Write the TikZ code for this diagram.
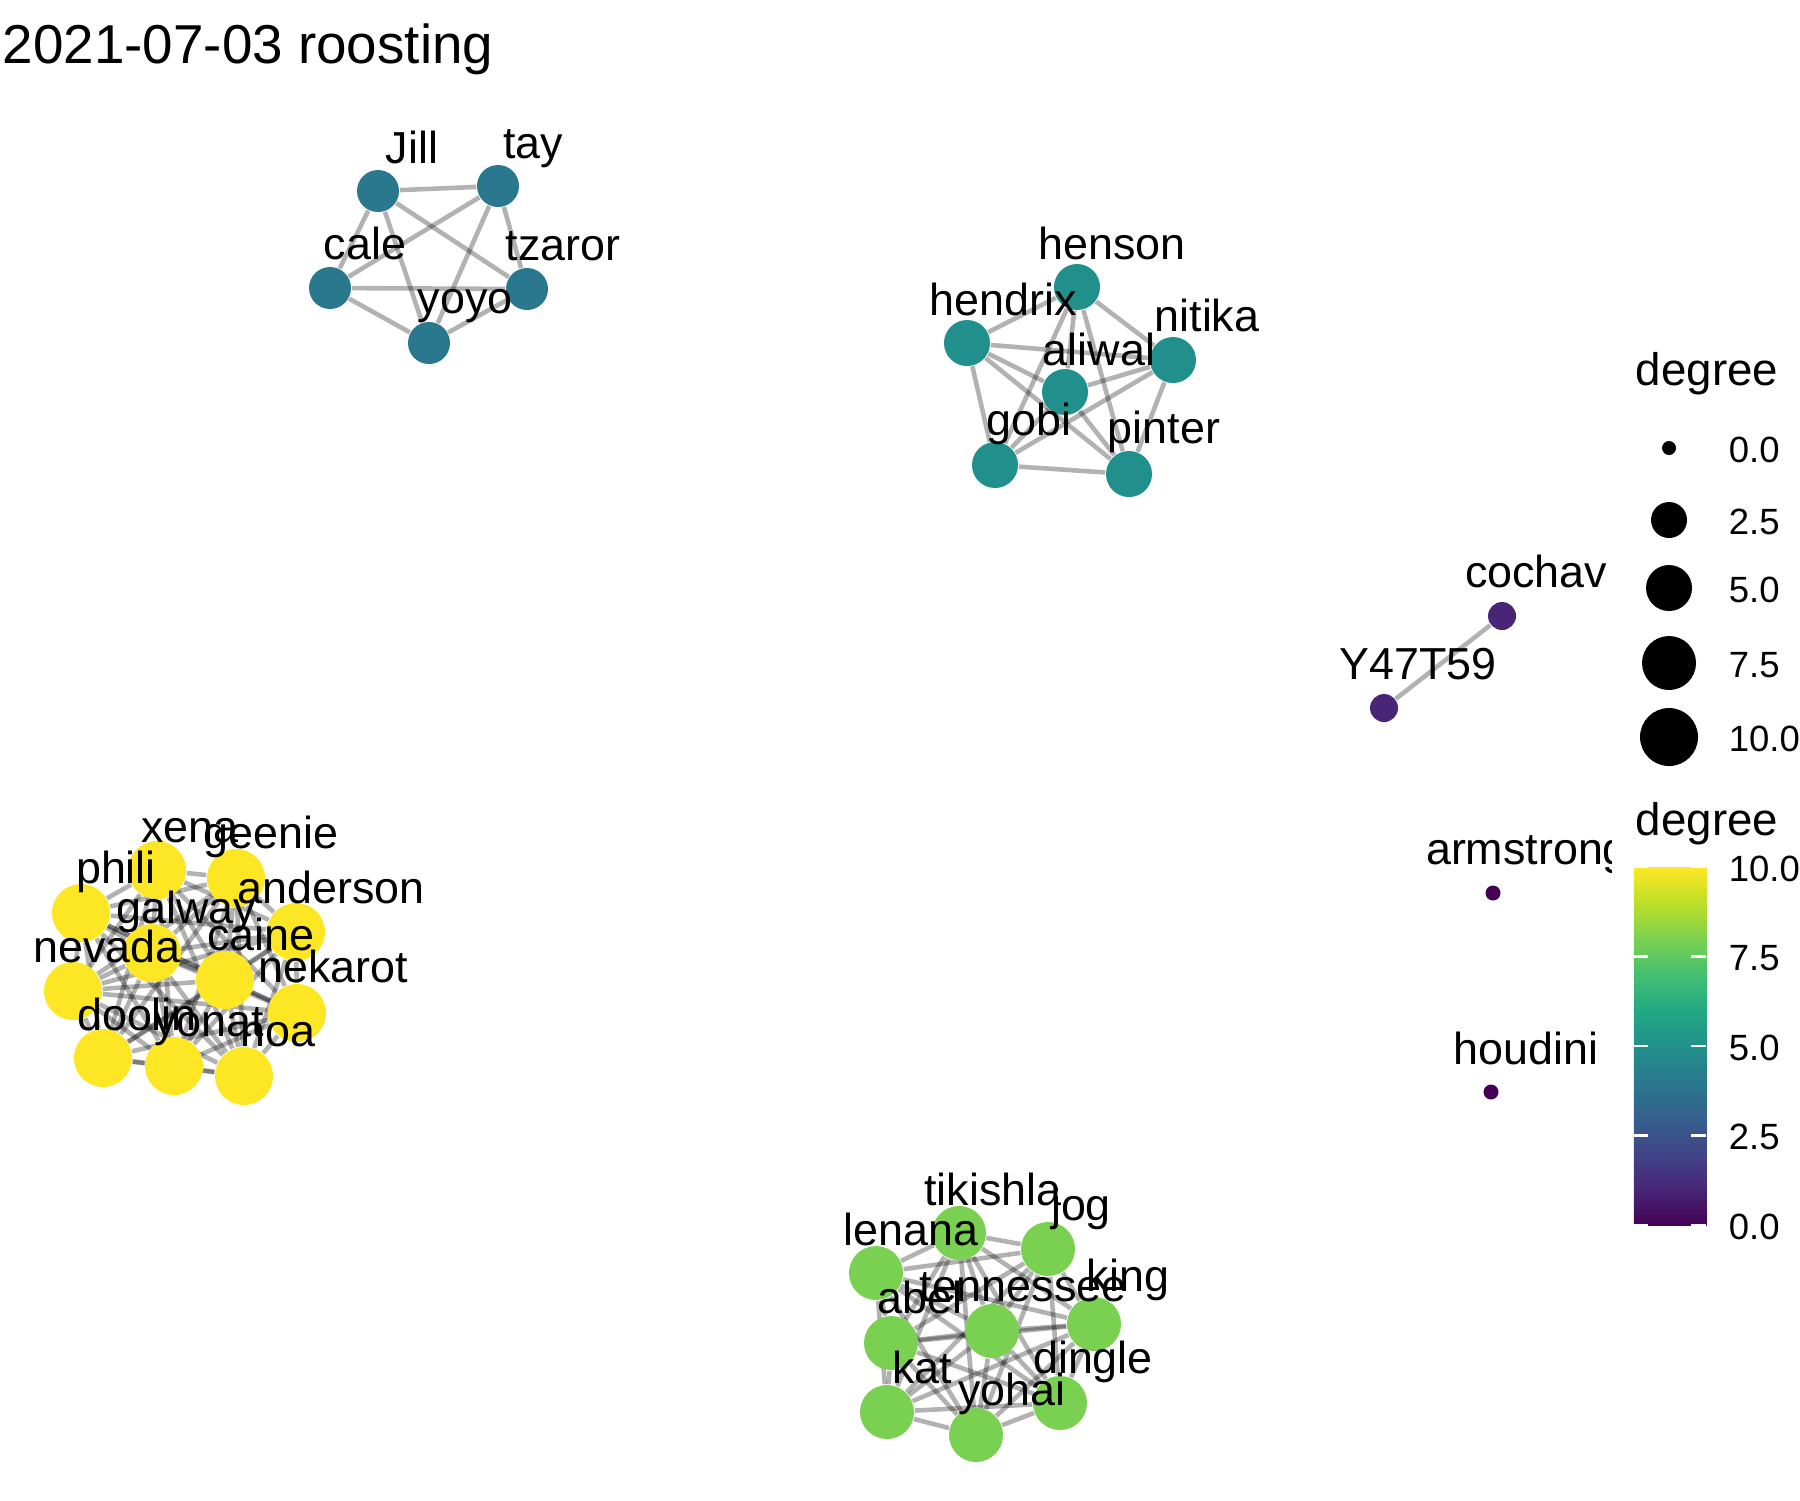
\documentclass[tikz,border=0pt]{standalone}
\usepackage{fontspec}
\setmainfont{Liberation Sans}
\usetikzlibrary{positioning}

\definecolor{v0}{HTML}{440154}
\definecolor{v1}{HTML}{482576}
\definecolor{v2}{HTML}{414487}
\definecolor{v3}{HTML}{35608D}
\definecolor{v4}{HTML}{2A788E}
\definecolor{v5}{HTML}{21908C}
\definecolor{v6}{HTML}{22A884}
\definecolor{v7}{HTML}{43BF71}
\definecolor{v8}{HTML}{7AD151}
\definecolor{v9}{HTML}{BBDF27}
\definecolor{v10}{HTML}{FDE725}

\pgfdeclarelayer{bg}
\pgfsetlayers{bg,main}

\pgfdeclareverticalshading{viridis}{100bp}{color(0bp)=(v0); color(25bp)=(v0);
  color(30bp)=(v1); color(35bp)=(v2); color(40bp)=(v3); color(45bp)=(v4);
  color(50bp)=(v5); color(55bp)=(v6); color(60bp)=(v7); color(65bp)=(v8);
  color(70bp)=(v9); color(75bp)=(v10); color(100bp)=(v10)}

% every pair of a group roosts together
\newcommand{\roostclique}[1]{%
  \foreach \u [count=\i] in {#1} {%
    \foreach \w [count=\j] in {#1} {%
      \ifnum\j>\i \draw[roostlink] (\u) -- (\w);\fi}}}

\begin{document}
\begin{tikzpicture}[x=0.24bp, y=-0.24bp,
  bat/.style 2 args={circle, inner sep=0pt, fill=#1, minimum size=#2},
  lab/.style={anchor=base, inner sep=0pt, font=\fontsize{10.8}{13}\selectfont},
  roostlink/.style={line width=1.1bp, draw=black, draw opacity=0.3},
  sizekey/.style={circle, inner sep=0pt, fill=black, minimum size=#1},
  keytext/.style={anchor=base west, inner sep=0pt, font=\fontsize{8.8}{10}\selectfont},
  keytitle/.style={anchor=base west, inner sep=0pt, font=\fontsize{11}{13}\selectfont}]

\useasboundingbox (0,0) rectangle (1800,1500);
\begin{pgfonlayer}{bg}
  \fill[white] (0,0) rectangle (1800,1500);
\end{pgfonlayer}

%naslov
\node[anchor=base west, inner sep=0pt, font=\fontsize{13.2}{16}\selectfont] (title) at (2,63) {2021-07-03 roosting};

%skupina od pet
\begin{scope}[every node/.style={bat={v4}{10.08bp}}]
  \foreach \n/\x/\y in {Jill/378/191, tay/498/186, cale/330/288, tzaror/527/289, yoyo/429/343}
    \node (\n) at (\x,\y) {};
\end{scope}

%skupina od sest
\begin{scope}[every node/.style={bat={v5}{11.04bp}}]
  \foreach \n/\x/\y in {henson/1077/287, hendrix/967/343, nitika/1173/360, aliwal/1065/392,
      gobi/995/465, pinter/1129/474}
    \node (\n) at (\x,\y) {};
\end{scope}

%skupina od jedanaest
\begin{scope}[every node/.style={bat={v10}{13.92bp}}]
  \foreach \n/\x/\y in {xena/157/870, geenie/236/878, phili/81/913, anderson/296/932,
      galway/152/953, caine/225/980, nevada/73/991, nekarot/297/1013, doolin/103/1058,
      yonat/174/1066, noa/244/1076}
    \node (\n) at (\x,\y) {};
\end{scope}

%skupina od devet
\begin{scope}[every node/.style={bat={v8}{12.96bp}}]
  \foreach \n/\x/\y in {tikishla/959/1233, jog/1048/1249, lenana/876/1273, king/1094/1324,
      tennessee/992/1331, abel/891/1343, dingle/1060/1403, kat/887/1412, yohai/976/1435}
    \node (\n) at (\x,\y) {};
\end{scope}

%par i samci
\node[bat={v1}{6.72bp}] (cochav) at (1502,616) {};
\node[bat={v1}{6.72bp}] (Y47T59) at (1384,708) {};
\node[bat={v0}{3.6bp}] (armstrong) at (1493,893) {};
\node[bat={v0}{3.6bp}] (houdini) at (1491,1092) {};

%veze
\begin{pgfonlayer}{bg}
  \roostclique{Jill,tay,cale,tzaror,yoyo}
  \roostclique{henson,hendrix,nitika,aliwal,gobi,pinter}
  \roostclique{xena,geenie,phili,anderson,galway,caine,nevada,nekarot,doolin,yonat,noa}
  \roostclique{tikishla,jog,lenana,king,tennessee,abel,dingle,kat,yohai}
  \draw[roostlink] (cochav) -- (Y47T59);
\end{pgfonlayer}

%imena
\begin{scope}
  \clip (0,0) rectangle (1611,1500);
  \begin{scope}[shift={(0,3)}]
  \foreach \n/\x/\y in {Jill/412/160, tay/533/155, cale/365/256, tzaror/563/257, yoyo/465/310,
      henson/1112/256, hendrix/1003/312, nitika/1207/328, aliwal/1099/362, gobi/1029/432,
      pinter/1164/440,
      xena/190/839, geenie/271/845, phili/116/880, anderson/331/900, galway/186/920,
      caine/261/947, nevada/107/959, nekarot/333/979, doolin/137/1027, yonat/209/1033,
      noa/278/1043,
      tikishla/993/1202, jog/1081/1217, lenana/911/1242, king/1128/1288, tennessee/1023/1298,
      abel/920/1310, kat/922/1380, dingle/1093/1370, yohai/1012/1402,
      cochav/1536/584, Y47T59/1418/676, armstrong/1527/861, houdini/1526/1061}
    \node[lab] (l\n) at (\x,\y) {\n};
  \end{scope}
\end{scope}

%legenda velicine
\node[keytitle] (sizetitle) at (1635,385) {degree};
\foreach \r/\y/\lv [count=\k] in {7/448/0.0, 18/520/2.5, 23/588/5.0, 27/663/7.5, 29/737/10.0} {
  \node[sizekey=2*\r*0.24bp] (dot\k) at (1669,\y) {};
  \node[keytext] (dottext\k) at (1728,{\y+14}) {\lv};
}

%legenda boje
\node[keytitle] (bartitle) at (1635,835) {degree};
\node[rectangle, inner sep=0pt, anchor=north west, minimum width=17.52bp,
  minimum height=85.92bp, shading=viridis] (bar) at (1633,867) {};
\foreach \v/\lv [count=\k] in {0/0.0, 2.5/2.5, 5/5.0, 7.5/7.5, 10/10.0} {
  \draw[white, line width=0.6bp] (1633,{1225-35.8*\v}) -- ++(15,0);
  \draw[white, line width=0.6bp] (1706,{1225-35.8*\v}) -- ++(-15,0);
  \node[keytext] (bartext\k) at (1728,{1239-35.8*\v}) {\lv};
}

\end{tikzpicture}
\end{document}
